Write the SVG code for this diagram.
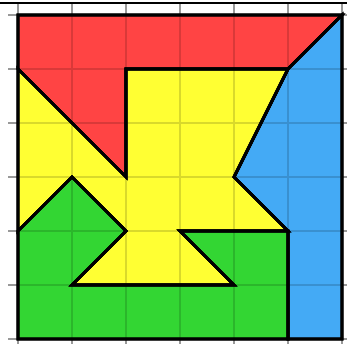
<svg xmlns="http://www.w3.org/2000/svg" width="347" height="344" viewBox="0 0 347 344">
<style>
.piece{stroke:#000;stroke-width:3;stroke-linejoin:miter}
.grid{stroke:#000;stroke-opacity:0.15;stroke-width:2}
.tick{stroke:#999;stroke-width:2}
</style>
<rect width="347" height="344" fill="#fff"/>
<g id="ticks">
<path class="tick" d="M18,4V344M72,4V344M126,4V344M180,4V344M234,4V344M288,4V344M342,4V344M8,15H347M8,69H347M8,123H347M8,177H347M8,231H347M8,285H347M8,339H347"/>
</g>
<line x1="0" y1="3" x2="347" y2="3" stroke="#000" stroke-width="2"/>
<g id="red"><polygon class="piece" fill="#ff4444" points="18,15 342,15 288,69 126,69 126,177 18,69"/></g>
<g id="blue"><polygon class="piece" fill="#44aaf5" points="342,15 288,69 234,177 288,231 288,339 342,339"/></g>
<g id="yellow"><polygon class="piece" fill="#ffff33" points="18,69 126,177 126,69 288,69 234,177 288,231 180,231 234,285 72,285 126,231 72,177 18,231"/></g>
<g id="green"><polygon class="piece" fill="#33d633" points="18,231 72,177 126,231 72,285 234,285 180,231 288,231 288,339 18,339"/></g>
<g id="gridlines">
<path class="grid" d="M72,15V339M126,15V339M180,15V339M234,15V339M288,15V339M18,69H342M18,123H342M18,177H342M18,231H342M18,285H342"/>
</g>
<g id="outlines" fill="none" stroke="#000" stroke-width="3">
<polygon points="18,15 342,15 288,69 126,69 126,177 18,69"/>
<polygon points="342,15 288,69 234,177 288,231 288,339 342,339"/>
<polygon points="18,69 126,177 126,69 288,69 234,177 288,231 180,231 234,285 72,285 126,231 72,177 18,231"/>
<polygon points="18,231 72,177 126,231 72,285 234,285 180,231 288,231 288,339 18,339"/>
</g>
</svg>
